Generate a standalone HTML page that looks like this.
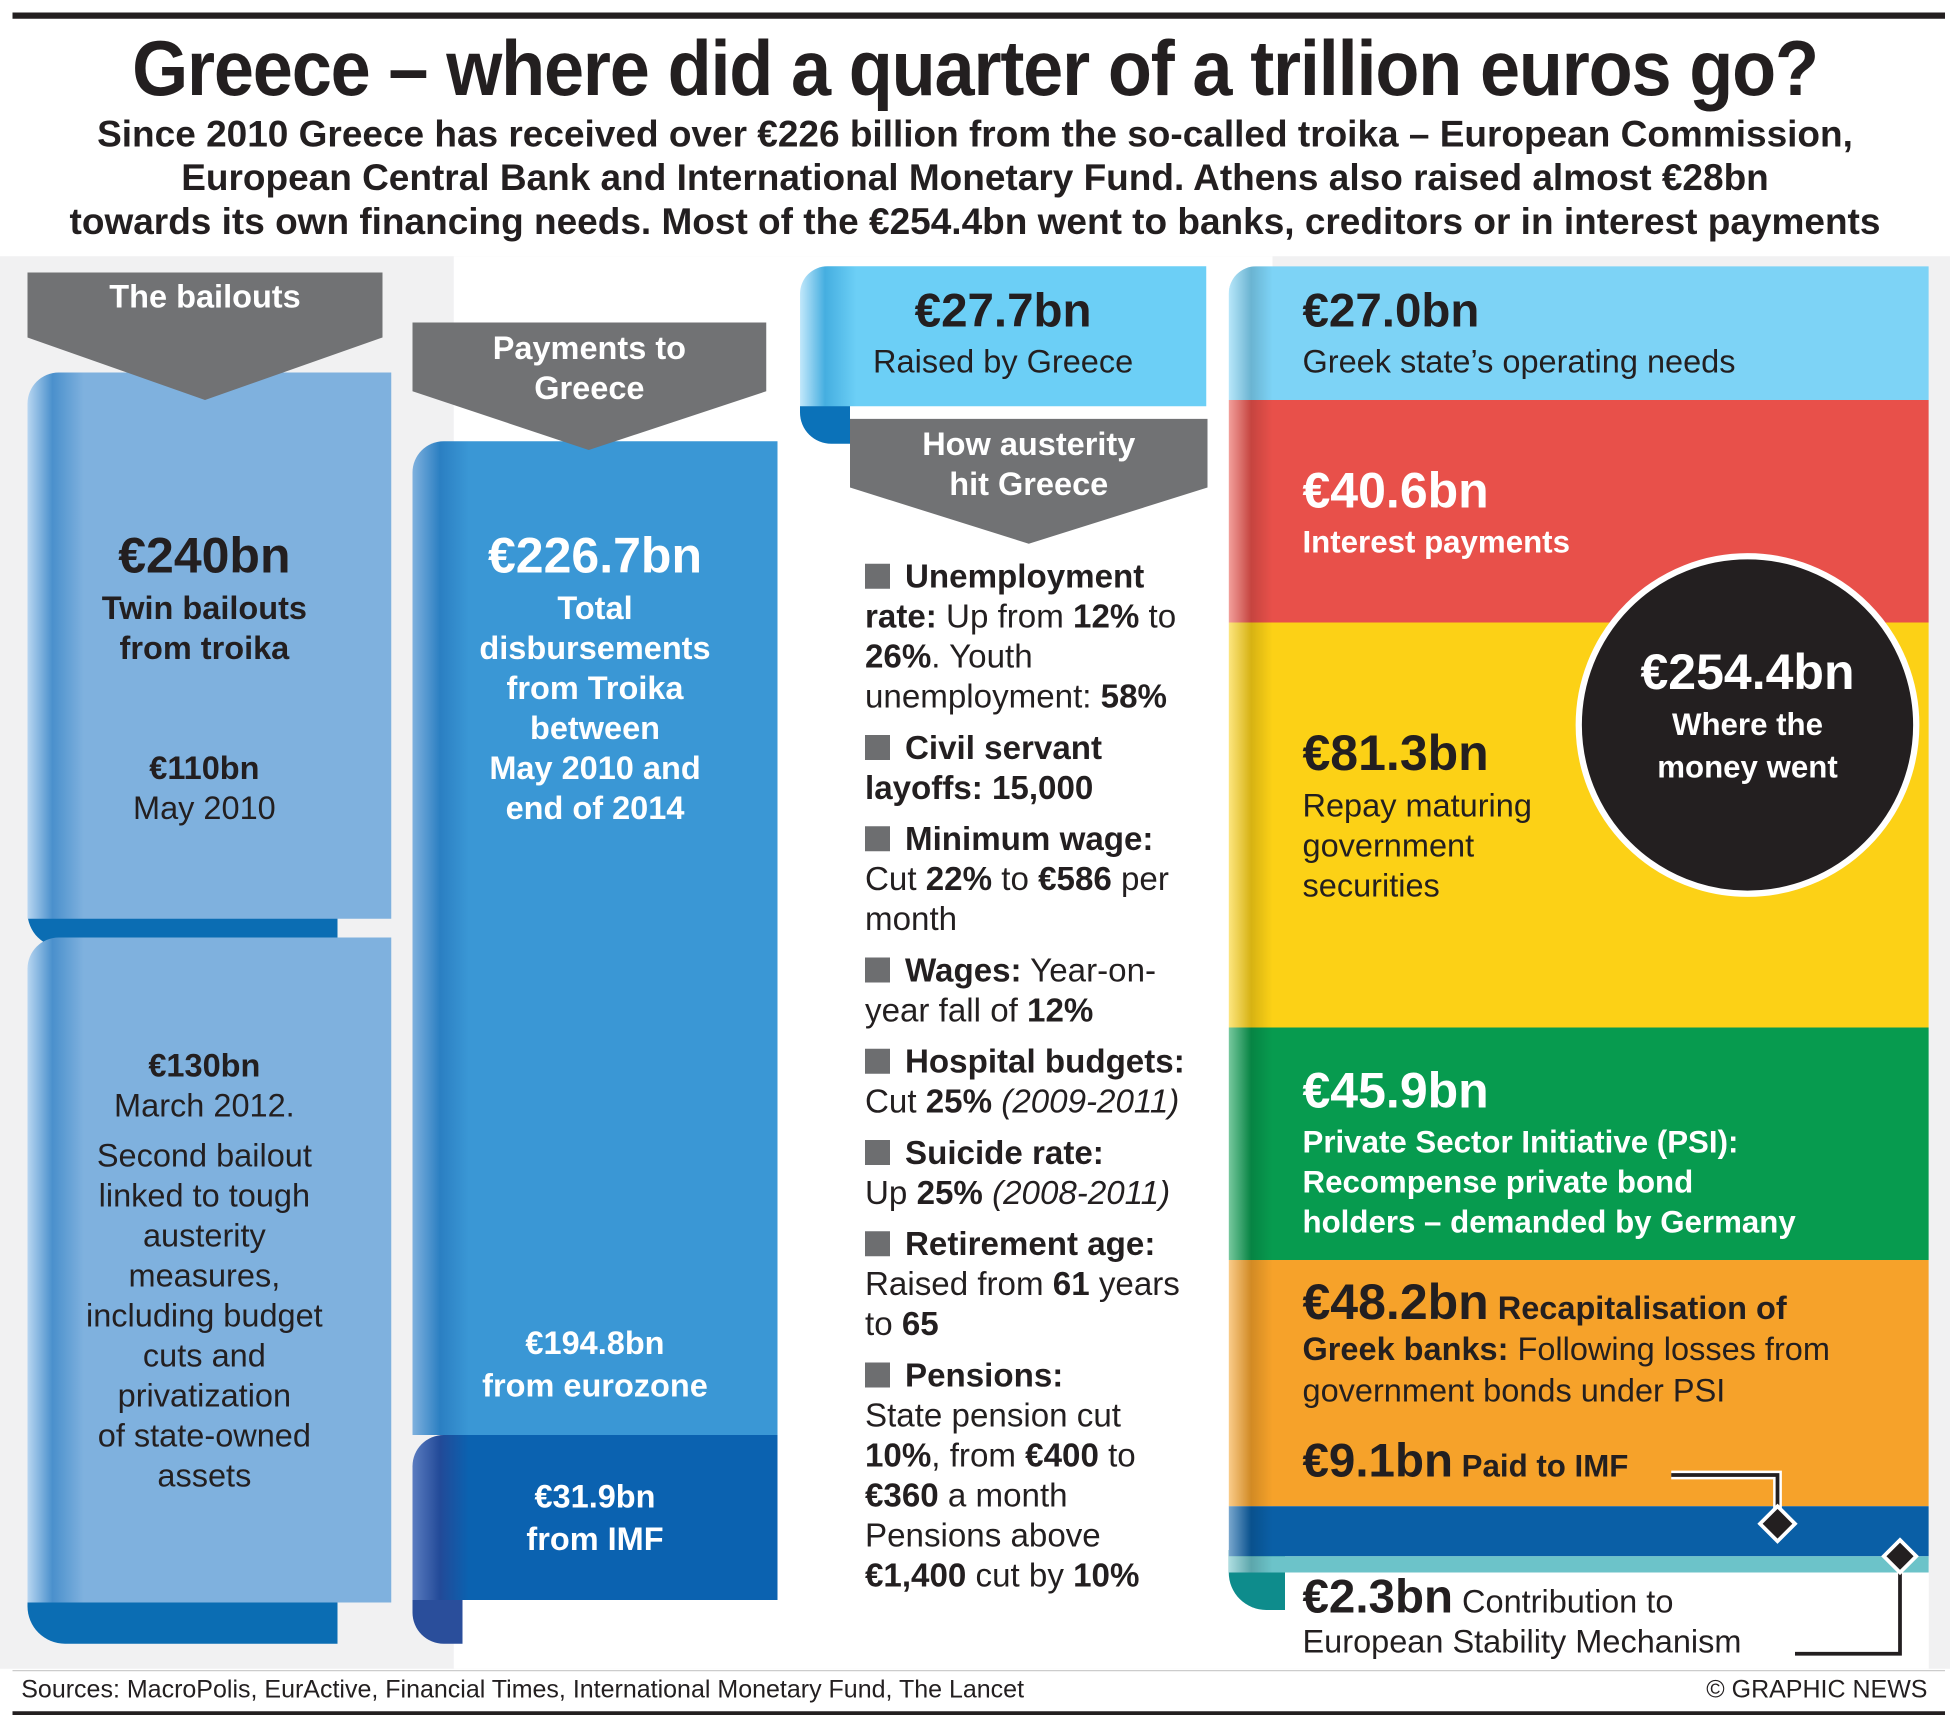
<!DOCTYPE html><html><head><meta charset="utf-8"><style>
*{margin:0;padding:0;box-sizing:border-box}
body{width:1950px;height:1717px;background:#fff;overflow:hidden;font-family:"Liberation Sans",sans-serif;color:#231f20}
#w{position:absolute;left:0;top:0;width:1560px;height:1374px;transform:scale(1.25);transform-origin:0 0}
.a{position:absolute}
.c{text-align:center}
.b{font-weight:bold}
.ban{background:#717274;color:#fff;font-weight:bold;text-align:center}
.li{font-size:26.5px;line-height:32px}
.li .sq{display:inline-block;width:20px;height:20px;background:#6d6e70;margin-right:12px;vertical-align:-1px}
</style></head><body><div id="w">
<div class="a" style="left:10px;top:10px;width:1546px;height:5px;background:#231f20"></div>
<div class="a c b" style="left:0;top:20px;width:1560px;font-size:62px;line-height:72px;letter-spacing:-1px;transform:scaleX(0.93)">Greece – where did a quarter of a trillion euros go?</div>
<div class="a c b" style="left:-20px;top:90px;width:1600px;font-size:29.6px;line-height:35px">Since 2010 Greece has received over €226 billion from the so-called troika – European Commission,<br>European Central Bank and International Monetary Fund. Athens also raised almost €28bn<br>towards its own financing needs. Most of the €254.4bn went to banks, creditors or in interest payments</div>
<div class="a" style="left:0;top:205px;width:1560px;height:1130px;background:#f1f1f2"></div>
<div class="a" style="left:363px;top:205px;width:655px;height:1130px;background:#fff"></div>
<!-- col1 -->
<div class="a" style="left:22px;top:730px;width:248px;height:28px;background:#0b6db3;border-radius:0 0 0 30px"></div>
<div class="a" style="left:22px;top:1280px;width:248px;height:35px;background:#0b6db3;border-radius:0 0 0 30px"></div>
<div class="a" style="left:22px;top:298px;width:291px;height:437px;background:linear-gradient(90deg,#b8d6f1 0,#4a90cc 20px,#7fb1de 45px,#7fb1de);border-radius:25px 0 0 0"></div>
<div class="a" style="left:22px;top:750px;width:291px;height:532px;background:linear-gradient(90deg,#b8d6f1 0,#4a90cc 20px,#7fb1de 45px,#7fb1de);border-radius:25px 0 0 0"></div>
<svg class="a" style="left:22px;top:218px" width="284" height="104"><polygon points="0,0 284,0 284,52 142,102 0,52" fill="#717274"/></svg>
<div class="a ban" style="left:22px;top:222px;width:284px;font-size:26px;background:none">The bailouts</div>
<div class="a c" style="left:22px;top:420px;width:283px;font-size:26px;line-height:32px"><div class="b" style="font-size:40px;line-height:50px">€240bn</div><b>Twin bailouts<br>from troika</b><br><br><br><b>€110bn</b><br>May 2010</div>
<div class="a c" style="left:22px;top:836px;width:283px;font-size:26px;line-height:32px"><b>€130bn</b><br>March 2012.<div style="margin-top:8px">Second bailout<br>linked to tough<br>austerity<br>measures,<br>including budget<br>cuts and<br>privatization<br>of state-owned<br>assets</div></div>
<!-- col2 -->
<div class="a" style="left:330px;top:1270px;width:40px;height:45px;background:#2a4e9b;border-radius:0 0 0 25px"></div>
<div class="a" style="left:330px;top:353px;width:292px;height:795px;background:linear-gradient(90deg,#7fb1de 0,#2b7fc2 22px,#3a97d5 45px,#3a97d5);border-radius:25px 0 0 0"></div>
<div class="a" style="left:330px;top:1148px;width:292px;height:132px;background:linear-gradient(90deg,#5b7cc0 0,#224a98 22px,#0b62b0 45px,#0b62b0);border-radius:25px 0 0 0"></div>
<svg class="a" style="left:330px;top:258px" width="284" height="104"><polygon points="0,0 283,0 283,55 141,102 0,55" fill="#717274"/></svg>
<div class="a ban" style="left:330px;top:262px;width:283px;font-size:26px;line-height:32px;background:none">Payments to<br>Greece</div>
<div class="a c b" style="left:330px;top:420px;width:292px;font-size:26px;line-height:32px;color:#fff"><div style="font-size:40px;line-height:50px">€226.7bn</div>Total<br>disbursements<br>from Troika<br>between<br>May 2010 and<br>end of 2014</div>
<div class="a c b" style="left:330px;top:1057px;width:292px;font-size:26px;line-height:34px;color:#fff">€194.8bn<br>from eurozone</div>
<div class="a c b" style="left:330px;top:1180px;width:292px;font-size:26px;line-height:34px;color:#fff">€31.9bn<br>from IMF</div>
<!-- col3 -->
<div class="a" style="left:640px;top:300px;width:40px;height:55px;background:#0b72b9;border-radius:0 0 0 25px"></div>
<div class="a" style="left:640px;top:213px;width:325px;height:112px;background:linear-gradient(90deg,#c2e8fb 0,#45aee0 20px,#6ccff6 45px,#6ccff6);border-radius:22px 0 0 0"></div>
<div class="a c" style="left:640px;top:226px;width:325px;font-size:26px;line-height:34px"><div class="b" style="font-size:38px;line-height:46px">€27.7bn</div>Raised by Greece</div>
<svg class="a" style="left:680px;top:335px" width="286" height="102"><polygon points="0,0 286,0 286,55 143,100 0,55" fill="#717274"/></svg>
<div class="a ban" style="left:680px;top:339px;width:286px;font-size:26px;line-height:32px;background:none">How austerity<br>hit Greece</div>
<div class="a li" style="left:692px;top:445px;width:272px">
<div><span class="sq"></span><b>Unemployment rate:</b> Up from <b>12%</b> to <b>26%</b>. Youth unemployment: <b>58%</b></div>
<div style="margin-top:9px"><span class="sq"></span><b>Civil servant layoffs: 15,000</b></div>
<div style="margin-top:9px"><span class="sq"></span><b>Minimum wage:</b> Cut <b>22%</b> to <b>€586</b> per month</div>
<div style="margin-top:9px"><span class="sq"></span><b>Wages:</b> Year-on-year fall of <b>12%</b></div>
<div style="margin-top:9px"><span class="sq"></span><b>Hospital budgets:</b> Cut <b>25%</b> <i>(2009-2011)</i></div>
<div style="margin-top:9px"><span class="sq"></span><b>Suicide rate:</b><br>Up <b>25%</b> <i>(2008-2011)</i></div>
<div style="margin-top:9px"><span class="sq"></span><b>Retirement age:</b> Raised from <b>61</b> years to <b>65</b></div>
<div style="margin-top:9px"><span class="sq"></span><b>Pensions:</b><br>State pension cut <b>10%</b>, from <b>€400</b> to <b>€360</b> a month Pensions above <b>€1,400</b> cut by <b>10%</b></div>
</div>
<!-- col4 -->
<div class="a" style="left:1018px;top:1250px;width:525px;height:85px;background:#fff"></div>
<div class="a" style="left:983px;top:1240px;width:45px;height:48px;background:#0e8c8c;border-radius:0 0 0 30px"></div>
<div class="a" style="left:983px;top:213px;width:560px;height:1045px;border-radius:22px 0 0 0;overflow:hidden">
<div class="a" style="left:0;top:0;width:560px;height:107px;background:#7dd3f6"></div>
<div class="a" style="left:0;top:107px;width:560px;height:178px;background:#e8504a"></div>
<div class="a" style="left:0;top:285px;width:560px;height:324px;background:#fcd116"></div>
<div class="a" style="left:0;top:609px;width:560px;height:186px;background:#079b4f"></div>
<div class="a" style="left:0;top:795px;width:560px;height:197px;background:#f6a22a"></div>
<div class="a" style="left:0;top:992px;width:560px;height:40px;background:#0a5fa6"></div>
<div class="a" style="left:0;top:1032px;width:560px;height:13px;background:#6cc3c9"></div>
<div class="a" style="left:0;top:0;width:35px;height:1045px;background:linear-gradient(90deg,rgba(255,255,255,.45),rgba(0,0,0,.15) 18px,rgba(0,0,0,0) 35px)"></div>
</div>
<div class="a" style="left:1042px;top:226px;font-size:26px;line-height:34px"><div class="b" style="font-size:38px;line-height:46px">€27.0bn</div>Greek state’s operating needs</div>
<div class="a b" style="left:1042px;top:368px;font-size:25px;line-height:32px;color:#fff"><div style="font-size:40px;line-height:50px">€40.6bn</div>Interest payments</div>
<div class="a" style="left:1042px;top:578px;font-size:26px;line-height:32px"><div class="b" style="font-size:40px;line-height:50px">€81.3bn</div>Repay maturing<br>government<br>securities</div>
<div class="a b" style="left:1042px;top:848px;font-size:25px;line-height:32px;color:#fff"><div style="font-size:40px;line-height:50px">€45.9bn</div>Private Sector Initiative (PSI):<br>Recompense private bond<br>holders – demanded by Germany</div>
<div class="a" style="left:1042px;top:1026px;font-size:26px;line-height:33px"><b style="font-size:40px">€48.2bn</b> <b>Recapitalisation of<br>Greek banks:</b> Following losses from<br>government bonds under PSI</div>
<div class="a" style="left:1042px;top:1148px;font-size:25px"><b style="font-size:38px">€9.1bn</b> <b>Paid to IMF</b></div>
<div class="a" style="left:1042px;top:1262px;font-size:26px;line-height:32px"><b style="font-size:38px">€2.3bn</b> Contribution to<br>European Stability Mechanism</div>
<svg class="a" style="left:0;top:0" width="1560" height="1374">
<path d="M1337,1180 H1422 V1215" stroke="#fff" stroke-width="7" fill="none"/>
<path d="M1337,1180 H1422 V1215" stroke="#231f20" stroke-width="3" fill="none"/>
<polygon points="1422,1205 1436,1219 1422,1233 1408,1219" fill="#231f20" stroke="#fff" stroke-width="3"/>
<path d="M1436,1323 H1520 V1250" stroke="#231f20" stroke-width="3" fill="none"/>
<polygon points="1520,1232 1533,1245 1520,1258 1507,1245" fill="#231f20" stroke="#fff" stroke-width="3"/>
<circle cx="1398" cy="580" r="135" fill="#231f20" stroke="#fff" stroke-width="5"/>
</svg>
<div class="a c b" style="left:1263px;top:513px;width:270px;color:#fff;font-size:25px;line-height:34px"><div style="font-size:40px;line-height:50px">€254.4bn</div>Where the<br>money went</div>
<!-- footer -->
<div class="a" style="left:10px;top:1336px;width:1546px;height:1px;background:#ccc"></div>
<div class="a" style="left:17px;top:1341px;font-size:20px">Sources: MacroPolis, EurActive, Financial Times, International Monetary Fund, The Lancet</div>
<div class="a" style="left:1200px;top:1341px;width:342px;text-align:right;font-size:20px">© GRAPHIC NEWS</div>
<div class="a" style="left:10px;top:1369px;width:1546px;height:3px;background:#231f20"></div>
</div></body></html>
